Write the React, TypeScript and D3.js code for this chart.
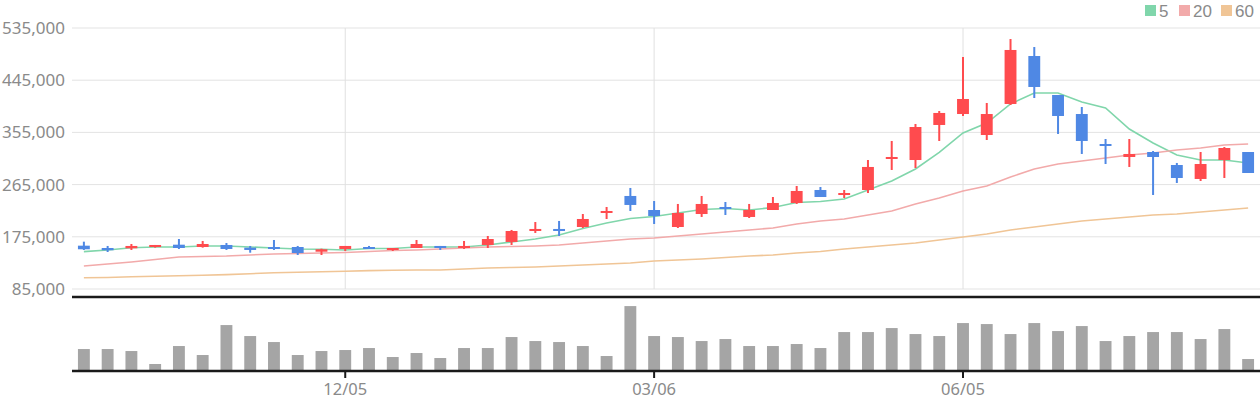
import React from "react";
import * as d3 from "d3";

// weekly candles (Mondays)
const dates = [
  "09/19", "09/26", "10/03", "10/10", "10/17", "10/24", "10/31", "11/07", "11/14", "11/21",
  "11/28", "12/05", "12/12", "12/19", "12/26", "01/02", "01/09", "01/16", "01/23", "01/30",
  "02/06", "02/13", "02/20", "02/27", "03/06", "03/13", "03/20", "03/27", "04/03", "04/10",
  "04/17", "04/24", "05/01", "05/08", "05/15", "05/22", "05/29", "06/05", "06/12", "06/19",
  "06/26", "07/03", "07/10", "07/17", "07/24", "07/31", "08/07", "08/14", "08/21", "08/28",
];

const open = [
  159700, 155700, 155200, 157400, 161400, 157400, 160900, 156300, 157400, 157400,
  149300, 154000, 157400, 152300, 155700, 159200, 155700, 160900, 166100, 185000,
  188500, 191900, 216100, 245400, 221200, 191900, 214300, 226400, 209200, 221200,
  233300, 255700, 247100, 255700, 309200, 307400, 367800, 386700, 350500, 404000,
  486700, 419500, 386700, 335000, 312600, 321200, 298800, 274700, 307400, 321200,
];
const high = [
  166600, 159200, 162600, 160900, 171200, 167800, 164300, 159200, 169500, 159200,
  154500, 159200, 159200, 155700, 169500, 159200, 167800, 176400, 186800, 200500,
  202300, 214300, 226400, 259200, 236700, 231600, 245400, 235000, 231600, 243600,
  262600, 260900, 255700, 307400, 340200, 369500, 391900, 485000, 405700, 516000,
  502200, 419500, 398800, 343600, 343600, 322900, 302300, 321200, 329800, 321200,
];
const low = [
  152300, 148800, 152300, 156300, 154000, 156300, 152300, 147600, 152300, 143600,
  143600, 150500, 154000, 150500, 155700, 152300, 154000, 155700, 160900, 181600,
  176400, 190200, 205700, 219500, 197100, 190200, 209200, 212600, 207400, 221200,
  231600, 243600, 241900, 250500, 290200, 293600, 340200, 383300, 341900, 402300,
  414300, 352300, 317800, 300500, 295400, 247100, 267800, 271200, 276400, 285000,
];
const close = [
  153500, 151800, 159200, 160900, 155700, 162600, 154000, 152300, 154000, 147000,
  153500, 159200, 154000, 155700, 162600, 155700, 159200, 171200, 185000, 188500,
  185000, 205700, 219500, 229900, 210900, 216100, 231600, 223000, 221200, 233300,
  254000, 243600, 250500, 295400, 312600, 364300, 388500, 412600, 386700, 497100,
  433300, 383300, 340200, 331600, 317800, 312600, 276400, 300500, 328100, 285000,
];
const volume = [
  220000, 220000, 200000, 70000, 250000, 160000, 460000, 350000, 290000, 160000,
  200000, 210000, 230000, 140000, 180000, 130000, 230000, 230000, 340000, 300000,
  290000, 250000, 150000, 650000, 350000, 340000, 300000, 320000, 250000, 250000,
  270000, 230000, 390000, 390000, 430000, 370000, 350000, 480000, 470000, 370000,
  480000, 400000, 450000, 300000, 350000, 390000, 390000, 320000, 420000, 120000,
];

const ma5 = [
  149400, 152300, 156000, 157400, 157400, 159200, 159200, 157400, 155700, 154000,
  153500, 152300, 154900, 154900, 157400, 157400, 157400, 160900, 166100, 171200,
  178100, 189300, 198800, 206600, 210000, 216100, 222100, 223800, 221200, 225500,
  234200, 235900, 240200, 255700, 271200, 291900, 320400, 354000, 371200, 404000,
  422900, 422900, 407400, 397100, 360900, 336700, 316100, 307400, 307400, 302300,
];
const ma20 = [
  124700, 128100, 131600, 135900, 140200, 141100, 141900, 143700, 145400, 146200,
  147100, 148000, 149700, 151400, 152300, 154000, 155700, 157400, 158300, 159200,
  160900, 164300, 167800, 171200, 173000, 176400, 179900, 183300, 186800, 190200,
  197100, 202300, 205700, 212600, 219500, 231600, 241900, 254000, 262600, 278100,
  291900, 300500, 305700, 310900, 316100, 319500, 324700, 328100, 333300, 335000,
];
const ma60 = [
  104500, 104900, 106200, 107100, 107900, 108800, 109700, 111400, 113100, 114000,
  114800, 115700, 116600, 117400, 117800, 117800, 119500, 121200, 122100, 123000,
  124700, 126400, 128100, 129900, 133300, 135000, 136800, 139300, 141900, 143700,
  147100, 149700, 154000, 157400, 160900, 164300, 169500, 174700, 179900, 186800,
  191900, 197100, 202300, 205700, 209200, 212600, 214300, 217800, 221200, 224700,
];

const priceTicks = [85000, 175000, 265000, 355000, 445000, 535000];
const dateTicks = ["12/05", "03/06", "06/05"];
const legendItems = [
  { label: "5", color: "#80d6ab" },
  { label: "20", color: "#f2aaaa" },
  { label: "60", color: "#f0c596" },
];

const W = 1260;
const H = 400;
const left = 72;
const right = 1260;
const priceTop = 28;
const priceBottom = 289;
const volTop = 297;
const volBottom = 371;
const UP = "#ff4b4e";
const DOWN = "#4f88e4";
const FONT = "'Noto Sans', sans-serif";

export default function App() {
  const x = d3.scaleBand<string>().domain(dates).range([left, right]).paddingInner(0.5).paddingOuter(0.25);
  const y = d3.scaleLinear().domain([85000, 535000]).range([priceBottom, priceTop]);
  const yv = d3
    .scaleLinear()
    .domain([0, (d3.max(volume) || 1) * 1.14])
    .range([volBottom, volTop]);
  const cx = (d: string) => (x(d) || 0) + x.bandwidth() / 2;
  const bw = x.bandwidth();
  const fmt = d3.format(",");

  const line = d3
    .line<number>()
    .x((_, i) => cx(dates[i]))
    .y((v) => y(v));

  const maSeries = [ma5, ma20, ma60];
  const legendX = [1145, 1179, 1221];

  return (
    <svg width={W} height={H} style={{ position: "absolute", left: 0, top: 0 }} fontFamily={FONT}>
      {/* horizontal grid + price labels */}
      {priceTicks.map((t) => (
        <g key={t}>
          <line x1={left} x2={right} y1={y(t)} y2={y(t)} stroke="#e3e3e3" strokeWidth={1} />
          <text x={65} y={y(t)} dy="0.35em" textAnchor="end" fontSize={17} fill="#8a8a8a">
            {fmt(t)}
          </text>
        </g>
      ))}
      {/* vertical grid */}
      {dateTicks.map((d) => (
        <line key={d} x1={cx(d)} x2={cx(d)} y1={priceTop} y2={priceBottom} stroke="#e0e0e0" strokeWidth={1} />
      ))}

      {/* moving averages */}
      {maSeries.map((s, k) => (
        <path key={k} d={line(s) || ""} fill="none" stroke={legendItems[k].color} strokeWidth={1.6} />
      ))}

      {/* candles */}
      {dates.map((d, i) => {
        const up = close[i] >= open[i];
        const c = up ? UP : DOWN;
        const top = y(Math.max(open[i], close[i]));
        const bot = y(Math.min(open[i], close[i]));
        const h = Math.max(2, bot - top);
        return (
          <g key={d}>
            <rect x={cx(d) - 1} y={y(high[i])} width={2} height={Math.max(0, y(low[i]) - y(high[i]))} fill={c} />
            <rect x={cx(d) - bw / 2} y={top} width={bw} height={h} fill={c} />
          </g>
        );
      })}

      {/* panel separator */}
      <line x1={left} x2={right} y1={volTop} y2={volTop} stroke="#1a1a1a" strokeWidth={2.5} />

      {/* volume */}
      {dates.map((d, i) => (
        <rect key={d} x={cx(d) - bw / 2} y={yv(volume[i])} width={bw} height={volBottom - yv(volume[i])} fill="#a5a5a5" />
      ))}
      <line x1={left} x2={right} y1={volBottom} y2={volBottom} stroke="#1a1a1a" strokeWidth={2.5} />

      {/* date axis */}
      {dateTicks.map((d) => (
        <g key={d}>
          <line x1={cx(d)} x2={cx(d)} y1={volBottom} y2={volBottom + 7} stroke="#1a1a1a" strokeWidth={2} />
          <text x={cx(d)} y={395} textAnchor="middle" fontSize={16.5} fill="#8a8a8a">
            {d}
          </text>
        </g>
      ))}

      {/* legend */}
      {legendItems.map((it, k) => (
        <g key={it.label}>
          <rect x={legendX[k]} y={5} width={11} height={11} fill={it.color} />
          <text
            x={legendX[k] + 14}
            y={16.8}
            fontSize={17}
            fontFamily="'Liberation Sans', sans-serif"
            fill="#8a8a8a"
          >
            {it.label}
          </text>
        </g>
      ))}
    </svg>
  );
}
